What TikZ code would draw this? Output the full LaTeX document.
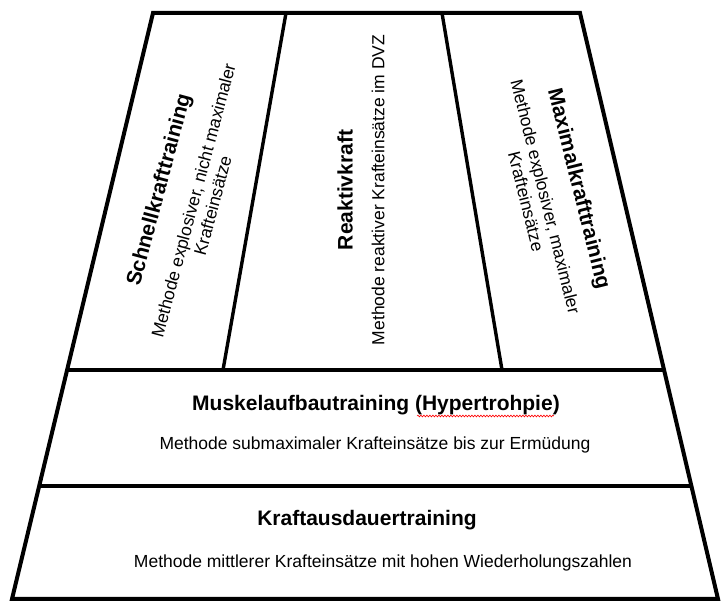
\documentclass[tikz,border=0pt]{standalone}
\usepackage{fontspec}
\setmainfont{Liberation Sans}
\usetikzlibrary{calc,decorations.pathmorphing}

\begin{document}
\begin{tikzpicture}[x=1pt,y=-1pt,
    rim/.style={line width=4pt},
    split/.style={line width=3.4pt},
    head/.style={font=\fontsize{21}{25}\selectfont\bfseries, inner sep=0pt},
    desc/.style={font=\fontsize{17.5}{20}\selectfont, align=center, inner sep=0pt},
    spell/.style={red, line width=0.6pt, decorate, decoration={snake, amplitude=0.9pt, segment length=3pt}}]
    \useasboundingbox (0,0) rectangle (721,601);
    % outline of the pyramid
    \coordinate (tl) at (153,13);
    \coordinate (tr) at (580,13);
    \coordinate (br) at (718,599);
    \coordinate (bl) at (12,599);
    \draw[rim] (tl) -- (tr) -- (br) -- (bl) -- cycle;
    % layers
    \draw[split] ($(tl)!0.609!(bl)$) coordinate (l1) -- ($(tr)!0.609!(br)$) coordinate (r1);
    \draw[split] ($(tl)!0.807!(bl)$) coordinate (l2) -- ($(tr)!0.807!(br)$) coordinate (r2);
    % columns on top
    \coordinate (c1) at (286,13);
    \coordinate (c2) at (442,13);
    \coordinate (d1) at (223,370);
    \coordinate (d2) at (502,370);
    \draw[split] (c1) -- (d1);
    \draw[split] (c2) -- (d2);

    \node[head, rotate=75] (schnell) at (160,190) {Schnellkrafttraining};
    \node[desc, rotate=75] (schnellm) at (203,203) {Methode explosiver, nicht maximaler\\Krafteinsätze};
    \node[head, rotate=90] (reaktiv) at (345,190) {Reaktivkraft};
    \node[desc, rotate=90] (reaktivm) at (378,190) {Methode reaktiver Krafteinsätze im DVZ};
    \node[head, rotate=-76] (maximal) at (578,189) {Maximalkrafttraining};
    \node[desc, rotate=-76] (maximalm) at (536,199) {Methode explosiver, maximaler\\Krafteinsätze};

    \node[head] (muskel) at (376,405) {Muskelaufbautraining (Hypertrohpie)};
    \node[desc] (muskelm) at (375,445) {Methode submaximaler Krafteinsätze bis zur Ermüdung};
    \draw[spell] ($(muskel.east)+(-143,11)$) -- ++(137,0);

    \node[head] (ausdauer) at (367,520) {Kraftausdauertraining};
    \node[desc] (ausdauerm) at (383,563) {Methode mittlerer Krafteinsätze mit hohen Wiederholungszahlen};
\end{tikzpicture}
\end{document}
